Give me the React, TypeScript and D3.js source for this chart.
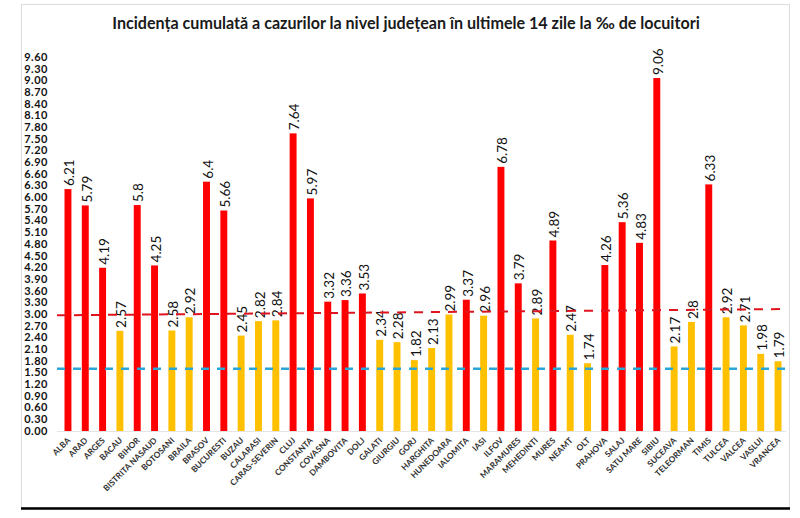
import React from 'react';
import * as d3 from 'd3';

const counties = [
  'ALBA', 'ARAD', 'ARGES', 'BACAU', 'BIHOR', 'BISTRITA NASAUD', 'BOTOSANI', 'BRAILA', 'BRASOV', 'BUCURESTI',
  'BUZAU', 'CALARASI', 'CARAS-SEVERIN', 'CLUJ', 'CONSTANTA', 'COVASNA', 'DAMBOVITA', 'DOLJ', 'GALATI', 'GIURGIU',
  'GORJ', 'HARGHITA', 'HUNEDOARA', 'IALOMITA', 'IASI', 'ILFOV', 'MARAMURES', 'MEHEDINTI', 'MURES', 'NEAMT',
  'OLT', 'PRAHOVA', 'SALAJ', 'SATU MARE', 'SIBIU', 'SUCEAVA', 'TELEORMAN', 'TIMIS', 'TULCEA', 'VALCEA',
  'VASLUI', 'VRANCEA',
];

const incidence = [
  6.21, 5.79, 4.19, 2.57, 5.8, 4.25, 2.58, 2.92, 6.4, 5.66,
  2.45, 2.82, 2.84, 7.64, 5.97, 3.32, 3.36, 3.53, 2.34, 2.28,
  1.82, 2.13, 2.99, 3.37, 2.96, 6.78, 3.79, 2.89, 4.89, 2.47,
  1.74, 4.26, 5.36, 4.83, 9.06, 2.17, 2.8, 6.33, 2.92, 2.71,
  1.98, 1.79,
];

// tick labels 0.00 .. 9.60 every 0.30
const yTicks = d3.range(33).map(i => +(i * 0.3).toFixed(2));

// threshold lines (start / end value as drawn)
const redThreshold = [2.97, 3.13];
const blueThreshold = [1.6, 1.6];

const title = 'Incidența cumulată a cazurilor la nivel județean în ultimele 14 zile la ‰ de locuitori';

const RED = '#ff0000';
const YELLOW = '#ffc000';

const App: React.FC = () => {
  const W = 800;
  const H = 518;
  const y = d3.scaleLinear().domain([0, 9.6]).range([431, 57]);
  const x = d3.scaleBand<string>()
    .domain(counties)
    .range([59.3, 786.7])
    .paddingInner(0.6)
    .paddingOuter(0.3);
  const lineX = d3.scaleLinear().domain([0, 1]).range([57, 785]);
  const font = 'Lato, "Open Sans", sans-serif';

  const data = counties.map((c, i) => ({ label: c, value: incidence[i] }));

  return (
    <svg width={W} height={H} style={{ position: 'absolute', left: 0, top: 0, background: '#fff' }} fontFamily={font}>
      <rect x={21.5} y={4.5} width={768} height={503} fill="#fff" stroke="#dcdcdc" />
      <line x1={21} x2={790} y1={508.5} y2={508.5} stroke="#000" strokeWidth={2.5} />

      <text x={406} y={29} textAnchor="middle" fontSize={16.1} fontWeight="bold" fill="#1a1a1a">{title}</text>

      {/* y axis labels */}
      {yTicks.map(t => (
        <text key={t} x={48} y={y(t)} dy="0.35em" textAnchor="end" fontSize={11} letterSpacing={0.5}
          fontWeight="bold" fill="#111">
          {t.toFixed(2)}
        </text>
      ))}

      <line x1={57} x2={786} y1={y(0) + 0.5} y2={y(0) + 0.5} stroke="#e4e4e4" />

      {/* bars */}
      {data.map(d => (
        <rect key={d.label} x={x(d.label)} y={y(d.value)} width={x.bandwidth()} height={y(0) - y(d.value)}
          fill={d.value > 3 ? RED : YELLOW} />
      ))}

      {/* value labels */}
      {data.map(d => {
        const cx = (x(d.label) as number) + x.bandwidth() / 2 + 1.5;
        const cy = y(d.value) - 3;
        return (
          <text key={d.label} transform={`translate(${cx},${cy}) rotate(-90)`} textAnchor="start" dy="0.35em"
            fontSize={13.5} fill="#111">
            {String(d.value)}
          </text>
        );
      })}

      {/* category labels */}
      {data.map(d => {
        const cx = (x(d.label) as number) + x.bandwidth() / 2 + 3;
        return (
          <text key={d.label} transform={`translate(${cx},441) rotate(-45)`} textAnchor="end" fontSize={8.3}
            fontWeight="bold" fill="#333">
            {d.label}
          </text>
        );
      })}

      {/* threshold lines */}
      <line x1={lineX(0)} x2={lineX(1)} y1={y(redThreshold[0])} y2={y(redThreshold[1])}
        stroke="#e0141e" strokeWidth={2} strokeDasharray="9 8" />
      <line x1={lineX(0)} x2={lineX(1)} y1={y(blueThreshold[0])} y2={y(blueThreshold[1])}
        stroke="#2aa6d6" strokeWidth={2.5} strokeDasharray="8 8" />
    </svg>
  );
};

export default App;
